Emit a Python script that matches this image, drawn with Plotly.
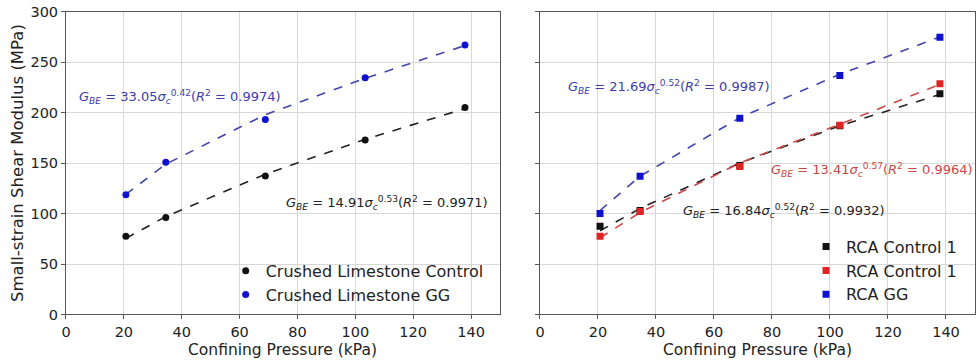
import plotly.graph_objects as go

# ---- data ----
pressure = [20.7, 34.5, 68.9, 103.4, 137.9]

cl_control = [77.4, 96.1, 137.1, 172.8, 205.0]
cl_gg = [118.7, 150.9, 193.2, 234.5, 266.9]
cl_control_fit = [75.4, 97.0, 139.0, 173.5, 204.0]
cl_gg_fit = [119.0, 149.0, 198.0, 234.0, 266.5]

rca_control_a = [87.5, 103.0, 147.5, 187.0, 218.7]
rca_control_b = [77.4, 102.0, 146.6, 187.6, 228.6]
rca_gg = [100.0, 137.0, 194.5, 236.7, 274.8]
rca_control_a_fit = [83.0, 105.0, 150.0, 187.0, 218.0]
rca_control_b_fit = [76.0, 101.0, 150.0, 188.5, 228.0]
rca_gg_fit = [103.0, 137.0, 195.0, 238.0, 275.0]

x_ticks = [0, 20, 40, 60, 80, 100, 120, 140]
y_ticks = [0, 50, 100, 150, 200, 250, 300]

x_title = "Confining Pressure (kPa)"
y_title = "Small-strain Shear Modulus (MPa)"

eq_cl_gg = "<i>G</i><sub><i>BE</i></sub> = 33.05<i>σ</i><sub><i>c</i></sub><sup>0.42</sup>(<i>R</i><sup>2</sup> = 0.9974)"
eq_cl_ctrl = "<i>G</i><sub><i>BE</i></sub> = 14.91<i>σ</i><sub><i>c</i></sub><sup>0.53</sup>(<i>R</i><sup>2</sup> = 0.9971)"
eq_rca_gg = "<i>G</i><sub><i>BE</i></sub> = 21.69<i>σ</i><sub><i>c</i></sub><sup>0.52</sup>(<i>R</i><sup>2</sup> = 0.9987)"
eq_rca_b = "<i>G</i><sub><i>BE</i></sub> = 13.41<i>σ</i><sub><i>c</i></sub><sup>0.57</sup>(<i>R</i><sup>2</sup> = 0.9964)"
eq_rca_a = "<i>G</i><sub><i>BE</i></sub> = 16.84<i>σ</i><sub><i>c</i></sub><sup>0.52</sup>(<i>R</i><sup>2</sup> = 0.9932)"

BLACK = "#111111"
BLUE = "#1010d0"
BLUE_LINE = "#4444aa"
BLUE_TXT = "#3c3cb0"
RED = "#e02424"
RED_LINE = "#cc4a4a"
RED_TXT = "#c84848"
FONT = "DejaVu Sans"

fig = go.Figure()

def fit(x, y, color, xa, ya):
    fig.add_trace(go.Scatter(x=x, y=y, mode="lines", xaxis=xa, yaxis=ya,
                             line=dict(color=color, width=1.6, dash="dash"),
                             showlegend=False, hoverinfo="skip"))

def pts(x, y, color, name, sym, xa, ya, legend, grp):
    fig.add_trace(go.Scatter(x=x, y=y, mode="markers", name=name, xaxis=xa, yaxis=ya,
                             marker=dict(color=color, size=7, symbol=sym, line=dict(width=0)),
                             legend=legend, legendgroup=grp))

# left panel
fit(pressure, cl_control_fit, "#222222", "x", "y")
fit(pressure, cl_gg_fit, BLUE_LINE, "x", "y")
pts(pressure, cl_control, BLACK, "Crushed Limestone Control", "circle", "x", "y", "legend", "a")
pts(pressure, cl_gg, BLUE, "Crushed Limestone GG", "circle", "x", "y", "legend", "b")

# right panel
fit(pressure, rca_control_a_fit, "#222222", "x2", "y2")
fit(pressure, rca_control_b_fit, RED_LINE, "x2", "y2")
fit(pressure, rca_gg_fit, BLUE_LINE, "x2", "y2")
pts(pressure, rca_control_a, BLACK, "RCA Control 1", "square", "x2", "y2", "legend2", "c")
pts(pressure, rca_control_b, RED, "RCA Control 1", "square", "x2", "y2", "legend2", "d")
pts(pressure, rca_gg, BLUE, "RCA GG", "square", "x2", "y2", "legend2", "e")

axis_common = dict(showline=True, linecolor="#555555", linewidth=1, mirror=True,
                   showgrid=True, gridcolor="#d8d8d8", gridwidth=1,
                   ticks="outside", ticklen=4, tickcolor="#555555",
                   tickfont=dict(family=FONT, size=14.5, color="#222222"),
                   zeroline=False, automargin=False)

ydom = [0.1265, 0.9675]
xdom1 = [0.06755, 0.51177]
xdom2 = [0.55271, 0.99795]
fig.update_layout(
    width=977, height=360,
    margin=dict(l=0, r=0, t=0, b=0),
    paper_bgcolor="white", plot_bgcolor="white",
    font=dict(family=FONT, color="#222222"),
    xaxis=dict(domain=xdom1, range=[0, 150], tickvals=x_ticks, anchor="y", **axis_common),
    yaxis=dict(domain=ydom, range=[0, 300], tickvals=y_ticks,
               title=dict(text=y_title, font=dict(size=16.5), standoff=2),
               anchor="x", **axis_common),
    xaxis2=dict(domain=xdom2, range=[0, 150], tickvals=x_ticks, anchor="y2", **axis_common),
    yaxis2=dict(domain=ydom, range=[0, 300], tickvals=y_ticks, showticklabels=False,
                anchor="x2", **axis_common),
    legend=dict(x=0.231, y=0.295, xanchor="left", yanchor="top", bgcolor="rgba(0,0,0,0)",
                font=dict(family=FONT, size=16, color="#222222"), tracegroupgap=0,
                traceorder="grouped"),
    legend2=dict(x=0.825, y=0.362, xanchor="left", yanchor="top", bgcolor="rgba(0,0,0,0)",
                 font=dict(family=FONT, size=16, color="#222222"), tracegroupgap=0,
                 traceorder="grouped"),
)

# x-axis titles
for dom in (xdom1, xdom2):
    fig.add_annotation(text=x_title, x=(dom[0] + dom[1]) / 2, y=-0.004, xref="paper", yref="paper",
                       xanchor="center", yanchor="bottom", showarrow=False,
                       font=dict(family=FONT, size=15.5, color="#222222"))

def note(text, x, y, color, xa, ya):
    fig.add_annotation(text=text, x=x, y=y, xref=xa, yref=ya, showarrow=False,
                       font=dict(family=FONT, size=13, color=color))

note(eq_cl_gg, 39.5, 215, BLUE_TXT, "x", "y")
note(eq_cl_ctrl, 111, 110, "#222222", "x", "y")
note(eq_rca_gg, 44.6, 225, BLUE_TXT, "x2", "y2")
note(eq_rca_b, 114.6, 143, RED_TXT, "x2", "y2")
note(eq_rca_a, 84.3, 103, "#222222", "x2", "y2")

fig.write_html("out.html")
